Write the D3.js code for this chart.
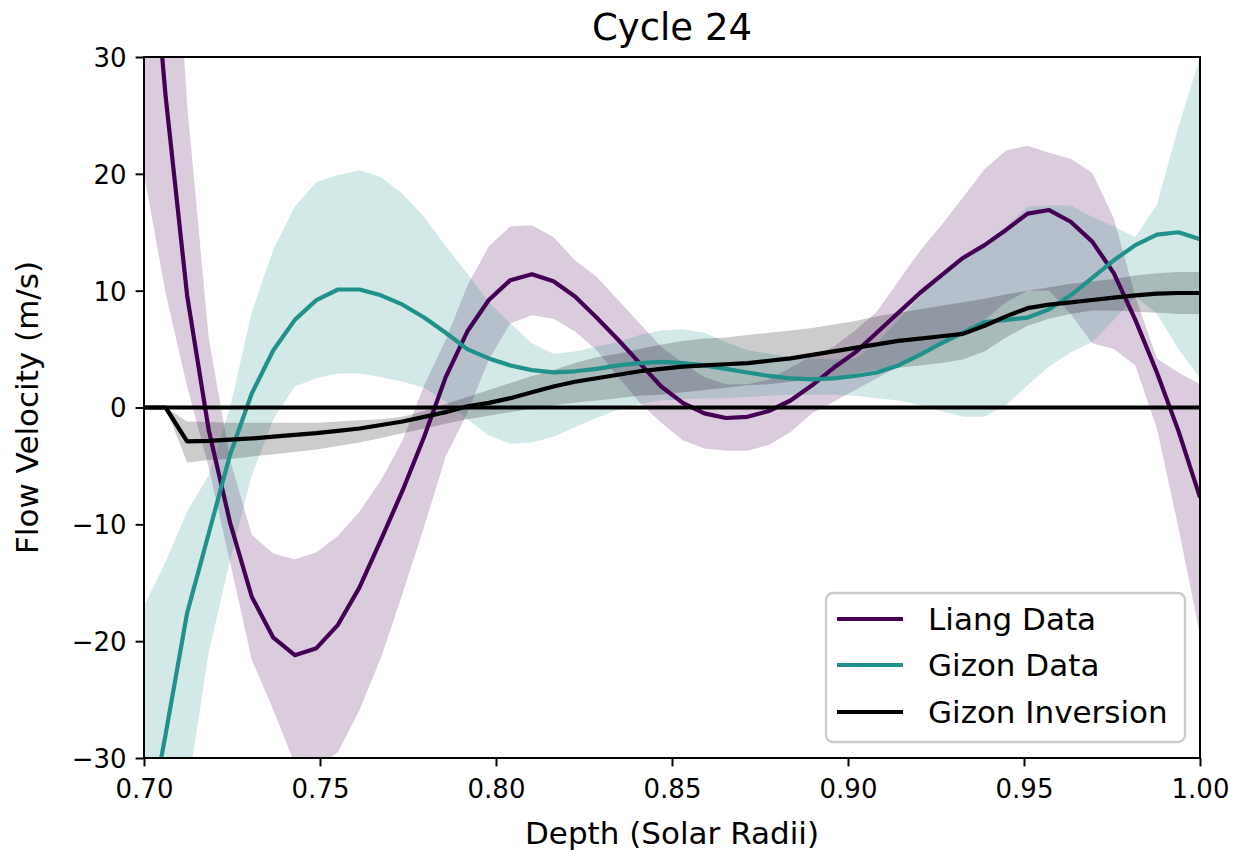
<!DOCTYPE html>
<html>
<head>
<meta charset="utf-8">
<script src="https://cdn.jsdelivr.net/npm/d3@7"></script>
<style>
  html, body { margin: 0; padding: 0; background: #ffffff; }
  svg { display: block; font-family: "DejaVu Sans", sans-serif; }
</style>
</head>
<body>
<svg id="chart" width="1238" height="852"></svg>
<script>
// ---- data (50 samples from 0.70 to 1.00 solar radii) ----
const nPoints = 50;
const depth = d3.range(nPoints).map(i => 0.7 + i * 0.3 / (nPoints - 1));

const liangMean = [48, 26.7, 9.6, -1.9, -9.9, -16.2, -19.7, -21.2, -20.6, -18.6,
  -15.4, -11.3, -7.1, -2.5, 2.6, 6.5, 9.2, 10.9, 11.4, 10.8,
  9.5, 7.7, 5.8, 3.8, 1.8, 0.4, -0.5, -0.9, -0.8, -0.3,
  0.6, 1.9, 3.4, 4.7, 6.4, 8.1, 9.8, 11.3, 12.8, 13.9,
  15.2, 16.6, 16.9, 15.9, 14.2, 11.5, 7.5, 3.0, -2.0, -7.7];
const liangUpper = [75, 55, 26, 6, -4.5, -10.9, -12.5, -13.0, -12.4, -11.0,
  -8.9, -6.2, -2.8, 1.9, 5.8, 10.4, 13.8, 15.5, 15.6, 14.6,
  12.6, 11.2, 9.2, 7.2, 5.2, 3.8, 2.6, 2.0, 2.0, 2.4,
  3.4, 4.4, 5.2, 6.6, 8.2, 10.8, 13.4, 15.6, 18.0, 20.4,
  22.0, 22.4, 21.8, 21.3, 20.1, 16.2, 9.5, 4.2, 3.0, 2.0];
const liangLower = [20, 9.8, 1.8, -5.1, -13.3, -21.6, -25.9, -30.5, -30.8, -29.5,
  -25.9, -21.4, -15.9, -10.2, -4.2, -0.5, 4.1, 7.2, 7.9, 7.6,
  6.5, 4.9, 2.6, 0.4, -1.3, -2.8, -3.5, -3.7, -3.7, -3.2,
  -2.1, -0.5, 0.5, 1.5, 2.5, 3.5, 4.5, 5.5, 6.5, 7.5,
  9.0, 10.0, 10.0, 8.0, 5.5, 5.0, 3.6, -1.8, -10.3, -19.5];

const gizonMean = [-38, -28, -17.6, -10.8, -4.0, 1.2, 4.9, 7.5, 9.2, 10.1,
  10.1, 9.6, 8.8, 7.7, 6.4, 5.0, 4.2, 3.6, 3.2, 3.0,
  3.1, 3.3, 3.6, 3.8, 3.9, 3.8, 3.6, 3.3, 3.0, 2.7,
  2.5, 2.4, 2.5, 2.7, 3.0, 3.6, 4.5, 5.5, 6.4, 7.3,
  7.5, 7.7, 8.4, 9.6, 11.1, 12.6, 13.9, 14.8, 15.0, 14.4];
const gizonUpper = [-17, -13.2, -8.9, -5.8, 0.0, 8.2, 13.5, 17.2, 19.3, 19.9,
  20.3, 19.7, 18.3, 16.3, 13.8, 11.5, 9.0, 7.2, 5.5, 4.6,
  4.8, 5.2, 5.6, 6.2, 6.6, 6.7, 6.4, 5.6, 4.9, 4.6,
  4.3, 4.2, 4.1, 4.2, 5.5, 7.5, 9.5, 11.2, 12.8, 14.0,
  15.5, 17.2, 17.3, 17.3, 16.3, 15.5, 14.6, 17.4, 24.0, 30.0];
const gizonLower = [-70, -50, -33, -21, -13, -5.8, -1.0, 1.8, 2.5, 2.9,
  2.9, 2.6, 2.2, 1.7, 0.5, -1.0, -2.4, -3.1, -3.0, -2.5,
  -1.7, -0.9, -0.2, 0.3, 0.6, 0.7, 0.8, 0.8, 0.9, 1.0,
  1.1, 1.1, 1.1, 1.0, 0.8, 0.6, 0.2, -0.3, -0.8, -0.8,
  0.2, 1.9, 3.5, 4.7, 5.6, 7.5, 9.5, 8.0, 5.0, 2.5];

const invMean = [0, 0, -2.9, -2.85, -2.75, -2.65, -2.5, -2.35, -2.2, -2.0,
  -1.8, -1.5, -1.2, -0.8, -0.4, 0.1, 0.4, 0.8, 1.3, 1.8,
  2.2, 2.5, 2.8, 3.1, 3.3, 3.5, 3.6, 3.7, 3.8, 4.0,
  4.2, 4.5, 4.8, 5.1, 5.4, 5.7, 5.9, 6.1, 6.3, 7.0,
  7.8, 8.5, 8.8, 9.0, 9.2, 9.4, 9.6, 9.75, 9.8, 9.8];
const invUpper = [0, 0, -1.2, -1.25, -1.3, -1.3, -1.3, -1.3, -1.3, -1.2,
  -1.1, -1.0, -0.8, -0.3, 0.3, 0.9, 1.5, 2.1, 2.7, 3.2,
  3.8, 4.3, 4.6, 5.0, 5.4, 5.7, 5.9, 6.0, 6.2, 6.4,
  6.6, 6.8, 7.1, 7.4, 7.8, 8.1, 8.4, 8.7, 9.0, 9.3,
  9.7, 10.0, 10.3, 10.6, 10.8, 11.0, 11.3, 11.5, 11.6, 11.6];
const invLower = [0, 0, -4.7, -4.5, -4.4, -4.2, -4.0, -3.8, -3.6, -3.3,
  -3.0, -2.6, -2.2, -1.8, -1.4, -1.0, -0.7, -0.4, -0.1, 0.2,
  0.4, 0.6, 0.8, 1.0, 1.1, 1.3, 1.5, 1.7, 1.9, 2.0,
  2.2, 2.4, 2.6, 2.9, 3.2, 3.4, 3.6, 3.8, 4.1, 4.8,
  6.0, 7.0, 7.6, 8.0, 8.3, 8.3, 8.2, 8.1, 8.0, 8.0];

const xTicks = [0.70, 0.75, 0.80, 0.85, 0.90, 0.95, 1.00];
const yTicks = [-30, -20, -10, 0, 10, 20, 30];
const seriesNames = ["Liang Data", "Gizon Data", "Gizon Inversion"];
const seriesColors = ["#440154", "#21918c", "#000000"];

// ---- layout ----
const svg = d3.select("#chart");
const L = 144, R = 1200, T = 57, B = 758;
const x = d3.scaleLinear().domain([0.7, 1.0]).range([L, R]);
const y = d3.scaleLinear().domain([-30, 30]).range([B, T]);

svg.append("defs").append("clipPath").attr("id", "plotclip")
  .append("rect").attr("x", L).attr("y", T).attr("width", R - L).attr("height", B - T);

const plot = svg.append("g").attr("clip-path", "url(#plotclip)");

const series = [
  { mean: liangMean, lo: liangLower, hi: liangUpper, color: seriesColors[0] },
  { mean: gizonMean, lo: gizonLower, hi: gizonUpper, color: seriesColors[1] },
  { mean: invMean, lo: invLower, hi: invUpper, color: seriesColors[2] }
];

const area = (lo, hi) => d3.area()
  .x((d, i) => x(depth[i]))
  .y0((d, i) => y(lo[i]))
  .y1((d, i) => y(hi[i]))(depth);
const line = vals => d3.line()
  .x((d, i) => x(depth[i]))
  .y((d, i) => y(vals[i]))(depth);

series.forEach(s => {
  plot.append("path").attr("d", area(s.lo, s.hi))
    .attr("fill", s.color).attr("fill-opacity", 0.2).attr("stroke", "none");
});
series.forEach(s => {
  plot.append("path").attr("d", line(s.mean))
    .attr("fill", "none").attr("stroke", s.color).attr("stroke-width", 4.2)
    .attr("stroke-linejoin", "round");
});
// zero line
plot.append("line").attr("x1", x(0.7)).attr("x2", x(1.0))
  .attr("y1", y(0)).attr("y2", y(0))
  .attr("stroke", "#000").attr("stroke-width", 4.2);

// ---- axes ----
const fmtX = d3.format(".2f");
const fmtY = v => (v < 0 ? "\u2212" + Math.abs(v) : String(v));

const xAxis = svg.append("g").attr("transform", `translate(0,${B})`)
  .call(d3.axisBottom(x).tickValues(xTicks).tickFormat(fmtX).tickSize(8.4).tickPadding(13));
const yAxis = svg.append("g").attr("transform", `translate(${L},0)`)
  .call(d3.axisLeft(y).tickValues(yTicks).tickFormat(fmtY).tickSize(8.4).tickPadding(9));
[xAxis, yAxis].forEach(a => {
  a.select(".domain").remove();
  a.selectAll(".tick line").attr("stroke", "#000").attr("stroke-width", 2);
  a.selectAll(".tick text").attr("fill", "#000").style("font-size", "26px")
    .style("font-family", "DejaVu Sans");
});
xAxis.selectAll(".tick text").attr("dy", "0.71em");
yAxis.selectAll(".tick text").attr("dy", "0.36em");

// frame
svg.append("rect").attr("x", L).attr("y", T).attr("width", R - L).attr("height", B - T)
  .attr("fill", "none").attr("stroke", "#000").attr("stroke-width", 2);

// ---- labels ----
svg.append("text").attr("x", (L + R) / 2).attr("y", 40).attr("text-anchor", "middle")
  .style("font-size", "37px").text("Cycle 24");
svg.append("text").attr("x", (L + R) / 2).attr("y", 844).attr("text-anchor", "middle")
  .style("font-size", "31px").text("Depth (Solar Radii)");
svg.append("text").attr("transform", `translate(38,${(T + B) / 2}) rotate(-90)`)
  .attr("text-anchor", "middle").style("font-size", "31px").text("Flow Velocity (m/s)");

// ---- legend ----
const lg = svg.append("g");
lg.append("rect").attr("x", 826).attr("y", 593).attr("width", 359).attr("height", 149)
  .attr("rx", 7).attr("fill", "#ffffff").attr("fill-opacity", 0.8)
  .attr("stroke", "#cccccc").attr("stroke-width", 2.4);
const rowY = [619, 665, 712];
seriesNames.forEach((name, i) => {
  lg.append("line").attr("x1", 837).attr("x2", 903).attr("y1", rowY[i]).attr("y2", rowY[i])
    .attr("stroke", seriesColors[i]).attr("stroke-width", 4.2);
  lg.append("text").attr("x", 928).attr("y", rowY[i]).attr("dy", "0.36em")
    .style("font-size", "31px").text(name);
});
</script>
</body>
</html>
